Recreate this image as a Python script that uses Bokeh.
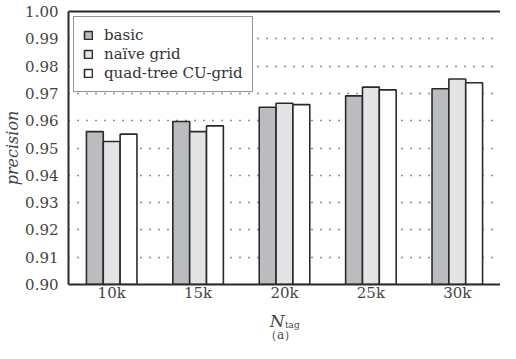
from bokeh.plotting import figure
from bokeh.layouts import column
from bokeh.models import (ColumnDataSource, FactorRange, Range1d, FixedTicker, Label,
                          Legend, LegendItem, PrintfTickFormatter, LinearAxis)
from bokeh.transform import dodge
from bokeh.embed import file_html
from bokeh.resources import INLINE

categories = ["10k", "15k", "20k", "25k", "30k"]
basic = [0.9560, 0.9597, 0.9649, 0.9691, 0.9717]
naive = [0.9524, 0.9560, 0.9664, 0.9723, 0.9753]
quad = [0.9551, 0.9581, 0.9659, 0.9713, 0.9739]
series_names = ["basic", "naïve grid", "quad-tree CU-grid"]
y_ticks = [0.90, 0.91, 0.92, 0.93, 0.94, 0.95, 0.96, 0.97, 0.98, 0.99, 1.00]
grid_ticks = [0.91, 0.92, 0.93, 0.94, 0.95, 0.96, 0.97, 0.98, 0.99]
y_label = "precision"
x_label_main = "N"
x_label_sub = "tag"
caption = "（a）"

SERIF = "DejaVu Serif"
INK = "#2a2a2a"
TXT = "#444444"

src = ColumnDataSource(dict(cat=categories, basic=basic, naive=naive, quad=quad))

p = figure(width=500, height=306, output_backend="svg", toolbar_location=None,
           x_range=FactorRange(*categories, range_padding=0), y_range=Range1d(0.90, 1.00),
           min_border_left=60, min_border_right=0, min_border_top=11, min_border_bottom=22,
           background_fill_color="white", border_fill_color="white")

bw = 0.195
fills = ["#bbbcbf", "#e3e4e6", "#ffffff"]
keys = ["basic", "naive", "quad"]
offs = [-bw, 0.0, bw]
rends = []
for k, f, o in zip(keys, fills, offs):
    r = p.vbar(x=dodge("cat", o, range=p.x_range), top=k, bottom=0.90, width=bw,
               source=src, fill_color=f, line_color=INK, line_width=1.6)
    rends.append(r)

p.xgrid.visible = False
p.ygrid.ticker = FixedTicker(ticks=grid_ticks)
p.ygrid.grid_line_color = "#222222"
p.ygrid.grid_line_dash = "1 8"
p.ygrid.grid_line_width = 1.4

p.yaxis.ticker = FixedTicker(ticks=y_ticks)
p.yaxis.formatter = PrintfTickFormatter(format="%.2f")
for ax in (p.xaxis[0], p.yaxis[0]):
    ax.major_tick_line_color = None
    ax.minor_tick_line_color = None
    ax.axis_line_color = INK
    ax.axis_line_width = 2
    ax.major_label_text_font = SERIF
    ax.major_label_text_font_size = "15px"
    ax.major_label_text_color = TXT
p.yaxis.major_label_standoff = 4
p.xaxis.major_label_standoff = -7
p.yaxis.axis_label = y_label
p.yaxis.axis_label_text_font = SERIF
p.yaxis.axis_label_text_font_style = "italic"
p.yaxis.axis_label_text_font_size = "16px"
p.yaxis.axis_label_text_color = TXT
p.yaxis.axis_label_standoff = 0

# top border line only (the reference shows no right border)
p.outline_line_color = None
top_axis = LinearAxis(ticker=FixedTicker(ticks=[]), axis_line_color=INK, axis_line_width=2,
                      major_tick_line_color=None, minor_tick_line_color=None,
                      major_label_text_font_size="0px", major_label_standoff=0)
p.add_layout(top_axis, "above")

legend = Legend(items=[LegendItem(label=n, renderers=[r]) for n, r in zip(series_names, rends)],
                location="top_left")
legend.margin = 5
legend.padding = 9
legend.spacing = 1
legend.glyph_width = 10
legend.glyph_height = 10
legend.label_height = 18
legend.label_standoff = 11
legend.label_text_font = SERIF
legend.label_text_font_size = "15px"
legend.label_text_color = "#333333"
legend.border_line_color = INK
legend.border_line_width = 1.5
legend.background_fill_color = "white"
legend.background_fill_alpha = 1.0
p.add_layout(legend)

# strip below the chart (its frame aligns with the chart frame) for axis title and caption
p2 = figure(width=500, height=37, output_backend="svg", toolbar_location=None,
            x_range=Range1d(0, len(categories)), y_range=Range1d(37, 0),
            min_border_left=0, min_border_right=0, min_border_top=0, min_border_bottom=0,
            background_fill_color="white", border_fill_color="white")
p2.axis.visible = False
p2.grid.visible = False
p2.outline_line_color = None

p2.add_layout(Label(x=2.5, y=14, text=x_label_main, text_align="right", text_baseline="alphabetic",
                    text_font=SERIF, text_font_style="italic", text_font_size="17px", text_color=TXT))
p2.add_layout(Label(x=2.505, y=18.5, text=x_label_sub, text_align="left", text_baseline="alphabetic",
                    text_font=SERIF, text_font_size="9px", text_color=TXT))
p2.add_layout(Label(x=2.455, y=28.5, text=caption, text_align="center", text_baseline="alphabetic",
                    text_font=SERIF, text_font_size="12px", text_color=TXT))

layout = column(p, p2, spacing=0)
open("out.html", "w").write(file_html(layout, INLINE))
